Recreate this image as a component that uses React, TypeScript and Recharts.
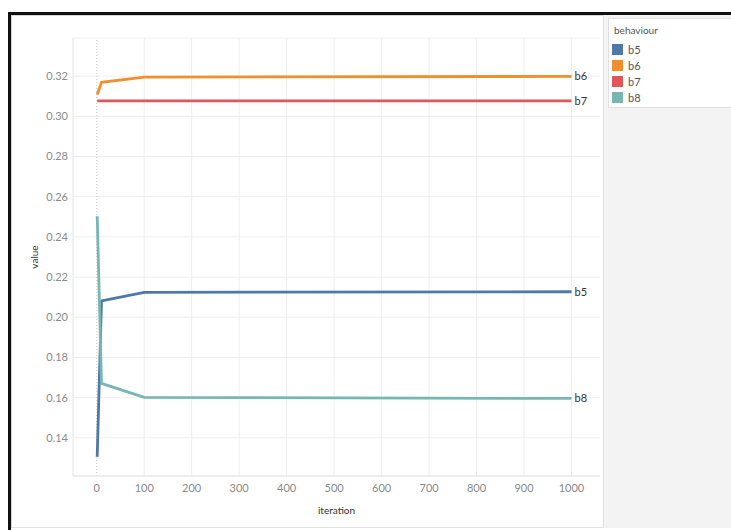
import React from 'react';
import {
  LineChart,
  Line,
  XAxis,
  YAxis,
  CartesianGrid,
  ReferenceLine,
} from 'recharts';

// iteration checkpoints and the value of each behaviour at them
const iterations = [1, 10, 100, 1000];
const b5 = [0.1306, 0.2081, 0.2124, 0.2127];
const b6 = [0.3109, 0.3169, 0.3195, 0.3199];
const b7 = [0.3077, 0.3077, 0.3077, 0.3077];
const b8 = [0.2503, 0.1671, 0.1601, 0.1596];

const xTicks = [0, 100, 200, 300, 400, 500, 600, 700, 800, 900, 1000];
const yTicks = [0.14, 0.16, 0.18, 0.2, 0.22, 0.24, 0.26, 0.28, 0.3, 0.32];

const series = [
  { key: 'b5', color: '#4e79a7', values: b5 },
  { key: 'b6', color: '#f28e2b', values: b6 },
  { key: 'b7', color: '#e15759', values: b7 },
  { key: 'b8', color: '#76b7b2', values: b8 },
];

const data = iterations.map((it, i) => {
  const row: Record<string, number> = { iteration: it };
  series.forEach((s) => {
    row[s.key] = s.values[i];
  });
  return row;
});

const FONT = "Lato, 'Open Sans', sans-serif";
const tickStyle = { fill: '#8a8a8a', fontSize: 11, fontFamily: FONT };

// name tag at the right end of each line
const endLabel = (name: string) => (props: any) => {
  const { x, y, index } = props;
  if (index !== data.length - 1) return null;
  return (
    <text x={x + 3} y={y} dy="0.35em" fontSize={11} fill="#333" fontFamily={FONT}>
      {name}
    </text>
  );
};

const YTitle = (props: any) => {
  const { x, y, height } = props.viewBox;
  const cx = x + 22;
  const cy = y + height / 2;
  return (
    <text
      x={cx}
      y={cy}
      transform={`rotate(-90, ${cx}, ${cy})`}
      textAnchor="middle"
      dominantBaseline="central"
      fontSize={10}
      fill="#333"
      fontFamily={FONT}
    >
      value
    </text>
  );
};

export default function App() {
  return (
    <div style={{ position: 'absolute', left: 0, top: 0, width: 731, height: 530, background: '#fff', overflow: 'hidden' }}>
      {/* outer frame */}
      <div style={{ position: 'absolute', left: 8, top: 12, width: 723, height: 3, background: '#111' }} />
      <div style={{ position: 'absolute', left: 8, top: 12, width: 3, height: 518, background: '#111' }} />
      {/* side panel */}
      <div style={{ position: 'absolute', left: 603, top: 15, width: 128, height: 513, background: '#f3f3f3', borderLeft: '1px solid #e2e2e2' }} />
      <div style={{ position: 'absolute', left: 11, top: 15, width: 592, height: 513, borderTop: '1px solid #d6d6d6', borderLeft: '1px solid #d6d6d6', borderBottom: '1px solid #e2e2e2', boxSizing: 'border-box' }} />

      {/* legend */}
      <div
        style={{
          position: 'absolute',
          left: 608,
          top: 18,
          width: 130,
          height: 90,
          background: '#fff',
          border: '1px solid #e0e0e0',
          boxSizing: 'border-box',
          fontFamily: FONT,
        }}
      >
        <div style={{ position: 'absolute', left: 5, top: 5, fontSize: 10, color: '#555' }}>behaviour</div>
        {series.map((s, i) => (
          <div key={s.key} style={{ position: 'absolute', left: 3, top: 24 + i * 16, height: 12, display: 'flex', alignItems: 'center' }}>
            <div style={{ width: 11, height: 11, background: s.color }} />
            <span style={{ marginLeft: 5, fontSize: 11, color: '#555' }}>{s.key}</span>
          </div>
        ))}
      </div>

      <div style={{ position: 'absolute', left: 12, top: 16 }}>
        <LineChart width={591} height={512} data={data} margin={{ top: 22, right: 3, left: 0, bottom: 0 }}>
          <CartesianGrid vertical={false} stroke="#eeeeee" />
          {xTicks
            .filter((t) => t !== 0)
            .map((t) => (
              <ReferenceLine key={t} x={t} stroke="#eeeeee" />
            ))}
          <ReferenceLine x={0} stroke="#c8c8c8" strokeDasharray="1 2" />
          <XAxis
            dataKey="iteration"
            type="number"
            domain={[-50, 1060]}
            ticks={xTicks}
            allowDataOverflow
            tickLine={false}
            axisLine={{ stroke: '#e4e4e4' }}
            tick={tickStyle}
            height={52}
            label={{ value: 'iteration', position: 'insideBottom', offset: 14, fill: '#333', fontSize: 10, fontFamily: FONT }}
          />
          <YAxis
            type="number"
            domain={[0.121, 0.339]}
            ticks={yTicks}
            allowDataOverflow
            tickFormatter={(v: number) => v.toFixed(2)}
            tickLine={false}
            tickSize={0}
            tickMargin={5}
            axisLine={{ stroke: '#e4e4e4' }}
            tick={tickStyle}
            width={61}
            label={<YTitle />}
          />
          {series.map((s) => (
            <Line
              key={s.key}
              type="linear"
              dataKey={s.key}
              stroke={s.color}
              strokeWidth={2.8}
              dot={false}
              isAnimationActive={false}
              label={endLabel(s.key)}
            />
          ))}
        </LineChart>
      </div>
    </div>
  );
}
